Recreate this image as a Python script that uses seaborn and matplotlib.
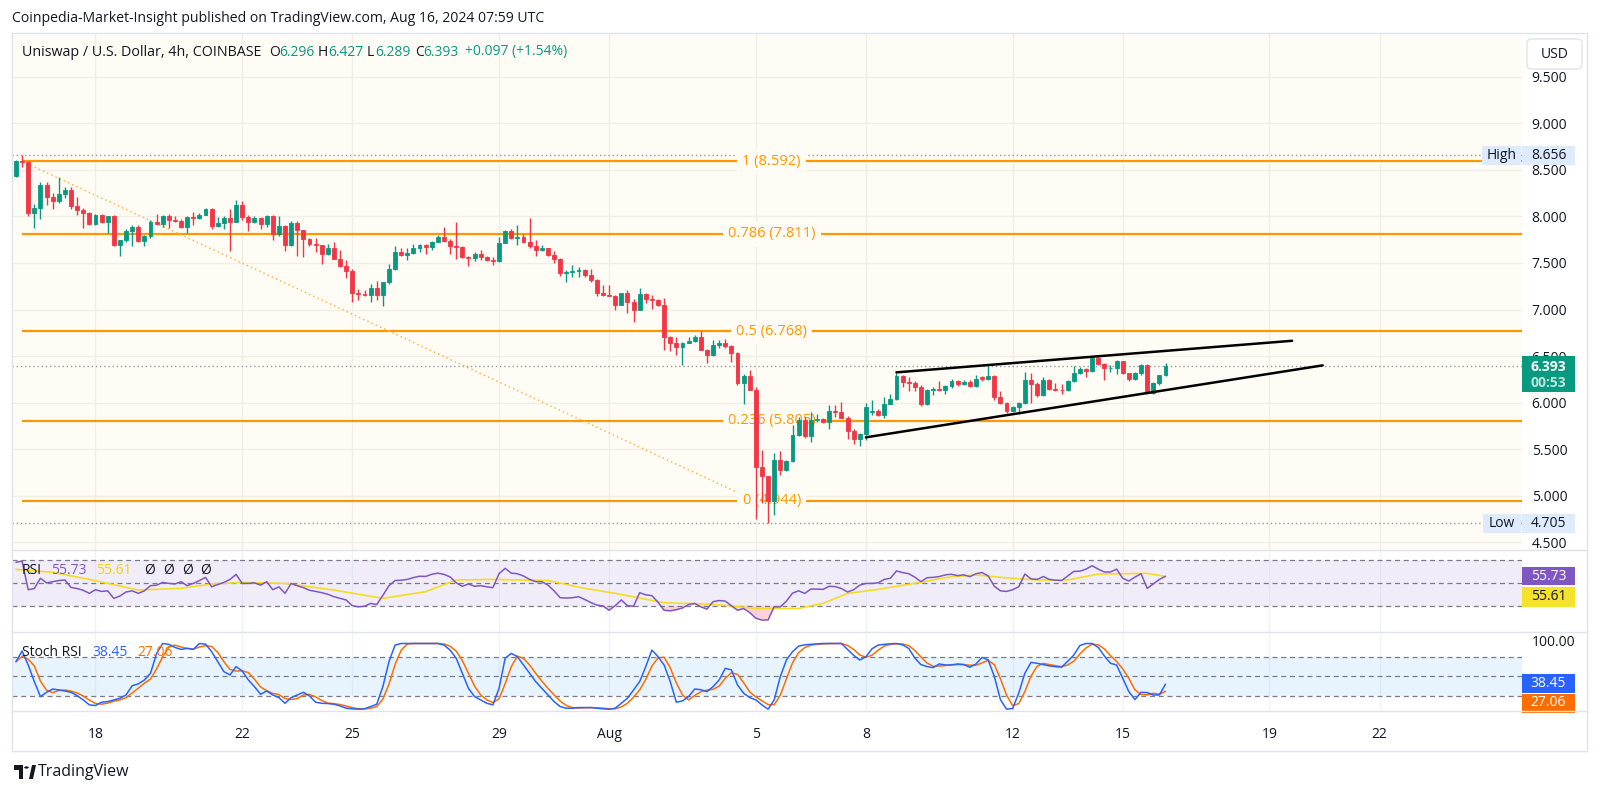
import numpy as np
import pandas as pd
import seaborn as sns
import matplotlib.pyplot as plt
from matplotlib.patches import Rectangle, FancyBboxPatch, Polygon, Circle

# 4h candles of UNI/USD (Coinbase), first bar Jul 15 20:00 UTC
opens = [8.43, 8.59, 8.58, 8.04, 8.09, 8.34, 8.21, 8.17, 8.24, 8.28,
         8.11, 8.07, 8.04, 7.92, 8.02, 7.94, 8.00, 7.69, 7.75, 7.84,
         7.89, 7.74, 7.79, 7.94, 7.92, 8.00, 7.96, 7.95, 7.89, 7.99,
         7.98, 8.02, 8.08, 7.90, 7.93, 7.98, 7.94, 8.12, 7.99, 7.94,
         7.98, 7.92, 8.00, 7.81, 7.90, 7.69, 7.93, 7.85, 7.76, 7.70,
         7.69, 7.60, 7.66, 7.54, 7.47, 7.41, 7.18, 7.17, 7.16, 7.23,
         7.16, 7.30, 7.43, 7.62, 7.59, 7.61, 7.66, 7.69, 7.67, 7.73,
         7.78, 7.74, 7.68, 7.67, 7.56, 7.55, 7.60, 7.56, 7.53, 7.52,
         7.71, 7.84, 7.77, 7.78, 7.72, 7.68, 7.64, 7.66, 7.59, 7.54,
         7.39, 7.40, 7.41, 7.42, 7.37, 7.32, 7.18, 7.16, 7.15, 7.05,
         7.18, 7.08, 7.00, 7.17, 7.11, 7.10, 7.05, 6.71, 6.64, 6.60,
         6.64, 6.66, 6.71, 6.57, 6.51, 6.62, 6.64, 6.61, 6.53, 6.21,
         6.29, 6.14, 5.31, 5.21, 4.94, 5.38, 5.28, 5.37, 5.65, 5.81,
         5.64, 5.81, 5.82, 5.79, 5.91, 5.90, 5.84, 5.70, 5.61, 5.66,
         5.90, 5.91, 5.87, 5.99, 6.035, 6.29, 6.225, 6.21, 6.17, 5.98,
         6.135, 6.15, 6.135, 6.18, 6.23, 6.20, 6.225, 6.18, 6.28, 6.25,
         6.29, 6.06, 6.00, 5.91, 5.95, 6.00, 6.24, 6.20, 6.08, 6.24,
         6.15, 6.14, 6.135, 6.23, 6.32, 6.36, 6.34, 6.475, 6.42, 6.37,
         6.375, 6.45, 6.315, 6.25, 6.315, 6.40, 6.107, 6.207, 6.296]
highs = [8.61, 8.656, 8.60, 8.13, 8.37, 8.37, 8.25, 8.42, 8.32, 8.32,
         8.21, 8.09, 8.05, 8.03, 8.03, 8.00, 8.02, 7.75, 7.87, 7.91,
         7.91, 7.80, 7.96, 8.03, 8.02, 8.03, 8.00, 7.97, 8.00, 8.05,
         8.04, 8.09, 8.09, 7.99, 8.00, 8.08, 8.18, 8.17, 8.01, 8.00,
         7.99, 8.01, 8.01, 8.00, 7.91, 7.95, 7.95, 7.85, 7.77, 7.77,
         7.69, 7.70, 7.72, 7.64, 7.53, 7.43, 7.22, 7.21, 7.27, 7.31,
         7.30, 7.49, 7.68, 7.66, 7.66, 7.70, 7.70, 7.70, 7.74, 7.80,
         7.89, 7.76, 7.94, 7.68, 7.57, 7.62, 7.64, 7.57, 7.56, 7.78,
         7.85, 7.86, 7.91, 7.81, 7.98, 7.75, 7.69, 7.66, 7.63, 7.55,
         7.42, 7.48, 7.46, 7.43, 7.43, 7.33, 7.26, 7.26, 7.16, 7.18,
         7.21, 7.11, 7.23, 7.18, 7.16, 7.11, 7.12, 6.72, 6.71, 6.65,
         6.70, 6.73, 6.77, 6.58, 6.67, 6.67, 6.68, 6.62, 6.54, 6.31,
         6.35, 6.17, 5.49, 5.21, 5.455, 5.475, 5.38, 5.76, 5.85, 5.85,
         5.90, 5.88, 5.83, 5.97, 5.97, 6.01, 5.86, 5.72, 5.67, 6.00,
         6.03, 5.93, 6.06, 6.09, 6.32, 6.30, 6.27, 6.23, 6.19, 6.15,
         6.17, 6.23, 6.19, 6.25, 6.24, 6.24, 6.24, 6.30, 6.29, 6.41,
         6.30, 6.12, 6.01, 5.96, 6.01, 6.33, 6.315, 6.22, 6.28, 6.25,
         6.21, 6.20, 6.24, 6.39, 6.38, 6.37, 6.50, 6.51, 6.43, 6.40,
         6.46, 6.45, 6.32, 6.33, 6.42, 6.41, 6.22, 6.30, 6.427]
lows = [8.42, 8.53, 8.00, 7.88, 7.97, 8.12, 8.08, 8.14, 8.20, 8.08,
        8.02, 7.88, 7.91, 7.91, 7.93, 7.82, 7.68, 7.57, 7.73, 7.68,
        7.73, 7.68, 7.77, 7.91, 7.89, 7.88, 7.94, 7.88, 7.82, 7.91,
        7.97, 8.01, 7.86, 7.89, 7.86, 7.63, 7.94, 7.96, 7.84, 7.93,
        7.87, 7.89, 7.75, 7.79, 7.63, 7.68, 7.57, 7.56, 7.68, 7.62,
        7.49, 7.59, 7.54, 7.46, 7.34, 7.08, 7.10, 7.14, 7.08, 7.10,
        7.04, 7.27, 7.42, 7.58, 7.53, 7.60, 7.62, 7.60, 7.64, 7.72,
        7.73, 7.60, 7.54, 7.55, 7.47, 7.52, 7.53, 7.52, 7.48, 7.51,
        7.71, 7.76, 7.69, 7.71, 7.66, 7.58, 7.63, 7.57, 7.50, 7.36,
        7.30, 7.35, 7.35, 7.35, 7.30, 7.14, 7.14, 7.14, 7.00, 7.05,
        6.96, 6.87, 7.00, 7.07, 7.01, 7.04, 6.56, 6.55, 6.51, 6.40,
        6.64, 6.65, 6.56, 6.43, 6.50, 6.59, 6.59, 6.44, 6.19, 5.99,
        6.14, 4.75, 4.92, 4.705, 4.79, 5.22, 5.27, 5.36, 5.64, 5.62,
        5.58, 5.79, 5.78, 5.72, 5.85, 5.83, 5.61, 5.555, 5.53, 5.60,
        5.87, 5.86, 5.84, 5.98, 6.03, 6.17, 6.12, 6.12, 5.96, 5.97,
        6.08, 6.12, 6.09, 6.16, 6.18, 6.19, 6.17, 6.17, 6.23, 6.24,
        6.03, 5.99, 5.885, 5.90, 5.88, 5.99, 6.00, 6.06, 6.07, 6.14,
        6.12, 6.09, 6.13, 6.22, 6.31, 6.27, 6.33, 6.40, 6.24, 6.33,
        6.31, 6.31, 6.23, 6.24, 6.30, 6.09, 6.09, 6.19, 6.289]
closes = [8.59, 8.58, 8.04, 8.09, 8.34, 8.21, 8.17, 8.24, 8.28, 8.11,
          8.07, 8.04, 7.92, 8.02, 7.94, 8.00, 7.69, 7.75, 7.84, 7.89,
          7.74, 7.79, 7.94, 7.92, 8.00, 7.96, 7.95, 7.89, 7.99, 7.98,
          8.02, 8.08, 7.90, 7.93, 7.98, 7.94, 8.12, 7.99, 7.94, 7.98,
          7.92, 8.00, 7.81, 7.90, 7.69, 7.93, 7.85, 7.76, 7.70, 7.69,
          7.60, 7.66, 7.54, 7.47, 7.41, 7.18, 7.17, 7.16, 7.23, 7.16,
          7.30, 7.43, 7.62, 7.59, 7.61, 7.66, 7.69, 7.67, 7.73, 7.78,
          7.74, 7.68, 7.67, 7.56, 7.55, 7.60, 7.56, 7.53, 7.52, 7.71,
          7.84, 7.77, 7.78, 7.72, 7.68, 7.64, 7.66, 7.59, 7.54, 7.39,
          7.40, 7.41, 7.42, 7.37, 7.32, 7.18, 7.16, 7.15, 7.05, 7.18,
          7.08, 7.00, 7.17, 7.11, 7.10, 7.05, 6.71, 6.64, 6.60, 6.64,
          6.66, 6.71, 6.57, 6.51, 6.62, 6.64, 6.61, 6.53, 6.21, 6.29,
          6.14, 5.31, 5.21, 4.94, 5.38, 5.28, 5.37, 5.65, 5.81, 5.64,
          5.81, 5.82, 5.79, 5.91, 5.90, 5.84, 5.70, 5.61, 5.66, 5.95,
          5.91, 5.87, 5.99, 6.035, 6.29, 6.225, 6.21, 6.17, 5.98, 6.135,
          6.15, 6.135, 6.18, 6.23, 6.20, 6.225, 6.18, 6.25, 6.25, 6.29,
          6.06, 6.00, 5.91, 5.95, 6.00, 6.24, 6.20, 6.08, 6.24, 6.15,
          6.14, 6.135, 6.23, 6.32, 6.36, 6.34, 6.475, 6.42, 6.37, 6.375,
          6.45, 6.315, 6.25, 6.315, 6.40, 6.107, 6.207, 6.296, 6.393]

rsi = [68, 69, 44, 45, 54, 50, 51, 52, 52.5, 46,
       45, 43.5, 40.8, 44, 42.5, 43, 36.4, 38.5, 42, 43,
       40.8, 43, 47.5, 48, 50.4, 49.5, 49, 51, 47.5, 49.5,
       52, 54.8, 46.6, 48.5, 50.4, 53, 57.4, 49.5, 49.5, 50,
       48, 51, 44, 46.5, 40.8, 49.5, 47.5, 45.8, 43.5, 42.5,
       41.4, 40, 37.9, 36.5, 35, 30, 29, 29.5, 32, 31,
       39, 47.5, 52, 52.3, 53, 54.6, 55.8, 55.6, 57.5, 58.5,
       57.4, 55.2, 50, 47, 49, 47, 47.5, 46.5, 45.8, 58,
       62.7, 58.5, 58, 56, 53, 51, 51, 48, 43, 37,
       36.7, 37, 37.9, 35.5, 32.8, 30.5, 29.8, 26, 30, 35,
       30, 29.5, 41.4, 39.5, 38.8, 33, 26, 25.5, 26.5, 28,
       31, 32, 29, 27, 33.5, 34.5, 34, 30, 26, 27.5,
       24, 19, 17.4, 17.5, 29, 29, 34, 41, 43, 40.8,
       44.6, 44.5, 44.3, 47, 46.7, 45, 42, 44, 48, 49.5,
       49.5, 50, 53, 54, 60.4, 59, 58, 55, 51, 54.5,
       54.8, 55.5, 57, 57.5, 56.3, 57, 55.4, 58, 59, 56,
       47, 43, 42.5, 44, 46.6, 57.7, 53.5, 53, 55.5, 53,
       52.3, 52, 56, 60, 60.2, 62, 65, 62, 59.5, 59.5,
       62, 54, 51.6, 55, 58, 45.2, 49, 53, 55.73]
rsi_ma_bar = [0, 6, 12, 20, 27, 32, 37, 44, 52, 60, 67, 72, 78, 87, 93, 98,
              106, 114, 121, 128, 132, 136, 141, 146, 153, 157, 161, 167,
              172, 177, 185, 188]
rsi_ma = [61.8, 59.2, 53, 43.7, 45.2, 49, 50.4, 49.5, 43.7, 36.4, 42.3, 52.5,
          53, 52, 45.2, 40.8, 32.6, 31.2, 27.6, 27.6, 32, 40.8, 44.3, 48.7,
          55.4, 56.9, 54.8, 52.5, 52.5, 57.7, 58.3, 55.61]

stoch_k = [72.4, 88.6, 67.4, 42.2, 19.5, 26, 31, 29.6, 28, 26,
           21, 14.5, 7, 6, 11, 12, 14.5, 17, 22, 36,
           38.7, 44.7, 54.8, 85, 100, 98.7, 94, 91, 92.6, 91,
           100, 99, 87.6, 72.4, 57.3, 52.3, 65, 58.3, 44.7, 34.6,
           23, 28, 22, 18, 9.4, 18, 22, 26, 20.5, 11,
           9.4, 9, 8, 5.4, 1.9, 1, 0.4, 1, 4.4, 8,
           34.6, 72.4, 97.6, 100, 100, 100, 100, 100, 100, 100,
           97.6, 90, 77.5, 54.8, 32, 19.5, 14.5, 9.4, 7, 32,
           77.5, 85, 80, 67.4, 54.8, 42.2, 32, 22, 12, 4.4,
           1.9, 1.9, 2.9, 2.9, 2.9, 1.9, 1, 0.4, 1.9, 9.4,
           17, 29.6, 42.2, 65, 90, 80, 67.4, 42.2, 11, 13,
           19.5, 31, 30, 27, 34.6, 44.7, 62.4, 60, 37.2, 24.6,
           18, 14.5, 7, 0.4, 14.5, 49.8, 75, 87.6, 96, 98,
           98.7, 99.5, 100, 100, 100, 100, 91, 82, 75, 80,
           92, 97.6, 98.7, 99.5, 100, 98, 92.5, 78, 68, 65,
           63.4, 69, 67.4, 67.4, 69, 68, 64, 69, 79, 75,
           50, 15, 0.5, 1.5, 25, 55, 71.4, 70, 68, 66,
           65, 64, 73, 82.5, 97, 100, 100, 94, 81, 70,
           67.4, 47.2, 27, 15, 26, 25.6, 22, 22, 38.45]
stoch_d_last = 27.06

date_ticks = [13, 37, 55, 79, 97, 121, 139, 163, 181, 205, 223]
date_labels = ["18", "22", "25", "29", "Aug", "5", "8", "12", "15", "19", "22"]
price_ticks = [4.5, 5.0, 5.5, 6.0, 6.5, 7.0, 7.5, 8.0, 8.5, 9.0, 9.5]

fib_levels = ["1", "0.786", "0.5", "0.236", "0"]
fib_prices = [8.592, 7.811, 6.768, 5.805, 4.944]
fib_from, fib_to, fib_label_bar = 1, 121, 123.6

wedge_upper = ([144, 208.7], [6.325, 6.664])
wedge_lower = ([139, 213.7], [5.627, 6.40])

high_price, low_price, last_price = 8.656, 4.705, 6.393

df = pd.DataFrame({"o": opens, "h": highs, "l": lows, "c": closes})
df["bar"] = np.arange(len(df))
ind = pd.DataFrame({"bar": np.arange(len(rsi)), "rsi": rsi, "k": stoch_k})
ind["d"] = ind["k"].rolling(3, min_periods=1).mean()

GREEN, RED = "#089981", "#F23645"
TXT = "#131722"
ORANGE = "#FF9800"

sns.set_style("white")
plt.rcParams["font.family"] = ["Open Sans", "DejaVu Sans"]

W, H = 1600, 794
fig = plt.figure(figsize=(16, 7.94), dpi=100)


def box(x0, y0, x1, y1):
    return [x0 / W, 1 - y1 / H, (x1 - x0) / W, (y1 - y0) / H]


def ftext(x, y, s, **kw):
    kw.setdefault("va", "center")
    kw.setdefault("fontsize", 10)
    kw.setdefault("color", TXT)
    fig.text(x / W, 1 - y / H, s, **kw)


def frect(x0, y0, x1, y1, **kw):
    fig.add_artist(Rectangle((x0 / W, 1 - y1 / H), (x1 - x0) / W, (y1 - y0) / H,
                             transform=fig.transFigure, **kw))


XL = (-0.65, 246.3)
ax = fig.add_axes(box(12, 34, 1522, 550))
ax_rsi = fig.add_axes(box(12, 550, 1522, 632))
ax_st = fig.add_axes(box(12, 632, 1522, 711))
ax_dt = fig.add_axes(box(12, 711, 1522, 751))

for a in (ax, ax_rsi, ax_st, ax_dt):
    a.set_xlim(XL)
    for s in a.spines.values():
        s.set_visible(False)
    a.set_xticks([])

# ---- price panel
YL = (4.417, 9.959)
ax.set_ylim(YL)
ax.set_facecolor("#FFFCF5")
for t in date_ticks:
    ax.axvline(t, color="#F1EEE6", lw=1, zorder=0)
for p in price_ticks:
    ax.axhline(p, color="#F1EEE6", lw=1, zorder=0)
ax.yaxis.tick_right()
ax.set_yticks(price_ticks)
ax.set_yticklabels([f"{p:.3f}" for p in price_ticks])
ax.tick_params(axis="y", length=0, pad=7, labelsize=10, labelcolor=TXT)

for p, lv in zip(fib_prices, fib_levels):
    ax.hlines(p, fib_from, XL[1], color=ORANGE, lw=1.6, zorder=1)
    ax.text(fib_label_bar, p, f"{lv} ({p:.3f})", ha="center", va="center",
            color=ORANGE, fontsize=10.5, zorder=2,
            bbox=dict(boxstyle="square,pad=0.35", fc="#FFFCF5", ec="none"))
ax.plot([fib_from, fib_to], [fib_prices[0], fib_prices[-1]], color="#FFB74D",
        ls=(0, (1, 2)), lw=1.1, zorder=1)

for p in (high_price, low_price, last_price):
    ax.axhline(p, color="#9598A1", ls=(0, (1, 2)), lw=1, zorder=1)

up = df["c"] >= df["o"]
cols = np.where(up, GREEN, RED)
ax.vlines(df["bar"], df["l"], df["h"], colors=cols, lw=1, zorder=3)
ax.bar(df["bar"], (df["c"] - df["o"]).abs(), bottom=df[["o", "c"]].min(axis=1),
       width=0.64, color=cols, edgecolor=cols, lw=0.6, zorder=4)

ax.plot(*wedge_upper, color="black", lw=1.8, zorder=5)
ax.plot(*wedge_lower, color="black", lw=1.8, zorder=5)

# ---- RSI panel
ax_rsi.set_ylim(6.98, 78.75)
ax_rsi.set_yticks([])
ax_rsi.axhspan(30, 70, color="#7E57C2", alpha=0.1, lw=0)
for v in (70, 50, 30):
    ax_rsi.axhline(v, color="#787B86", ls=(0, (4, 3)), lw=0.9)
for t in date_ticks:
    ax_rsi.axvline(t, color="#F0F3FA", lw=1, zorder=0)
r = np.array(rsi)
ax_rsi.fill_between(ind["bar"], r, 30, where=r < 30, interpolate=True,
                    color=RED, alpha=0.22, lw=0)
sns.lineplot(x=rsi_ma_bar, y=rsi_ma, ax=ax_rsi, color="#F5DC1F", lw=1.2)
sns.lineplot(data=ind, x="bar", y="rsi", ax=ax_rsi, color="#7E57C2", lw=1.1)
ax_rsi.set_xlabel("")
ax_rsi.set_ylabel("")

# ---- Stoch RSI panel
ax_st.set_ylim(-2.3, 117.4)
ax_st.set_yticks([])
ax_st.axhspan(20, 80, color="#2196F3", alpha=0.1, lw=0)
for v in (80, 50, 20):
    ax_st.axhline(v, color="#787B86", ls=(0, (4, 3)), lw=0.9)
for t in date_ticks:
    ax_st.axvline(t, color="#F0F3FA", lw=1, zorder=0)
sns.lineplot(data=ind, x="bar", y="d", ax=ax_st, color="#FF6D00", lw=1.1)
sns.lineplot(data=ind, x="bar", y="k", ax=ax_st, color="#2962FF", lw=1.1)
ax_st.set_xlabel("")
ax_st.set_ylabel("")

# ---- date axis
ax_dt.set_ylim(0, 1)
ax_dt.set_yticks([])
for t, lab in zip(date_ticks, date_labels):
    ax_dt.text(t, 0.4, lab, ha="center", va="center", fontsize=10, color=TXT)

# ---- frame and separators
frect(12, 33, 1587, 751, fc="none", ec="#E0E3EB", lw=1)
for yy in (550, 632, 711):
    fig.add_artist(plt.Line2D([12 / W, 1587 / W], [1 - yy / H] * 2,
                              transform=fig.transFigure, color="#E0E3EB", lw=1))
frect(1523, 551, 1586, 631, fc="white", ec="none")


def ypx(p):
    return 34 + (YL[1] - p) / (YL[1] - YL[0]) * 516


def tag(x0, x1, yc, h, fc, txt, tc="white"):
    frect(x0, yc - h / 2, x1, yc + h / 2, fc=fc, ec="none")
    ftext((x0 + x1) / 2, yc, txt, ha="center", color=tc, fontsize=10)


fig.add_artist(FancyBboxPatch((1527 / W, 1 - 69 / H), 55 / W, 30 / H,
                              boxstyle="round,pad=0,rounding_size=0.004",
                              transform=fig.transFigure, fc="white", ec="#E0E3EB"))
ftext(1554.5, 54, "USD", ha="center", fontsize=10)

LB = "#DDEBFC"
tag(1482, 1521, ypx(high_price), 19, LB, "High", TXT)
tag(1522, 1575, ypx(high_price), 19, LB, f"{high_price:.3f}", TXT)
tag(1483, 1521, ypx(low_price), 19, LB, "Low", TXT)
tag(1522, 1575, ypx(low_price), 19, LB, f"{low_price:.3f}", TXT)
yl = ypx(last_price)
frect(1522, yl - 10, 1575, yl + 26, fc=GREEN, ec="none")
ftext(1548.5, yl + 1, f"{last_price:.3f}", ha="center", color="white",
      fontsize=10, fontweight="bold")
ftext(1548.5, yl + 17, "00:53", ha="center", color="#BDE6DE", fontsize=10,
      fontweight="bold")

tag(1522, 1575, 576, 18, "#7E57C2", f"{rsi[-1]:.2f}")
tag(1522, 1575, 597, 20, "#F5E22A", f"{rsi_ma[-1]:.2f}", TXT)
ftext(1532, 643, "100.00", fontsize=10)
tag(1522, 1575, 683.5, 19, "#2962FF", f"{stoch_k[-1]:.2f}")
tag(1522, 1575, 703, 19, "#FF6D00", f"{stoch_d_last:.2f}")

# ---- texts
ftext(12, 18, "Coinpedia-Market-Insight published on TradingView.com, "
      "Aug 16, 2024 07:59 UTC", fontsize=10.1)
ftext(22, 52, "Uniswap / U.S. Dollar, 4h, COINBASE", fontsize=10.3)
for x, s, c in [(269, "O", TXT), (279, "6.296", GREEN), (318, "H", TXT),
                (328, "6.427", GREEN), (367, "L", TXT), (375, "6.289", GREEN),
                (415, "C", TXT), (423, "6.393", GREEN),
                (465, "+0.097 (+1.54%)", GREEN)]:
    ftext(x, 52, s, color=c, fontsize=10)

LS = 10
ftext(22, 570, "RSI", fontsize=LS)
ftext(51, 570, f"{rsi[-1]:.2f}", color="#7E57C2", fontsize=LS)
ftext(96, 570, f"{rsi_ma[-1]:.2f}", color="#F0D600", fontsize=LS)
for x in (144, 163, 182, 200):
    ftext(x, 570, "\u00d8", fontsize=LS)
ftext(22, 653, "Stoch RSI", fontsize=LS)
ftext(92, 653, f"{stoch_k[-1]:.2f}", color="#2962FF", fontsize=LS)
ftext(137, 653, f"{stoch_d_last:.2f}", color="#FF6D00", fontsize=LS)

# TradingView logo
fig.add_artist(Polygon([(14 / W, 1 - 765 / H), (23 / W, 1 - 765 / H),
                        (23 / W, 1 - 779 / H), (19 / W, 1 - 779 / H),
                        (19 / W, 1 - 770 / H), (14 / W, 1 - 770 / H)],
                       transform=fig.transFigure, fc="#131722", ec="none"))
fig.add_artist(Circle((26.5 / W, 1 - 767.5 / H), 2.3 / W,
                      transform=fig.transFigure, fc="#131722", ec="none"))
fig.add_artist(Polygon([(29 / W, 1 - 779 / H), (32 / W, 1 - 765 / H),
                        (36 / W, 1 - 765 / H), (33 / W, 1 - 779 / H)],
                       transform=fig.transFigure, fc="#131722", ec="none"))
ftext(38, 772, "TradingView", fontsize=11.5, fontweight="medium")

fig.savefig("out.png", dpi=100, facecolor="white")
